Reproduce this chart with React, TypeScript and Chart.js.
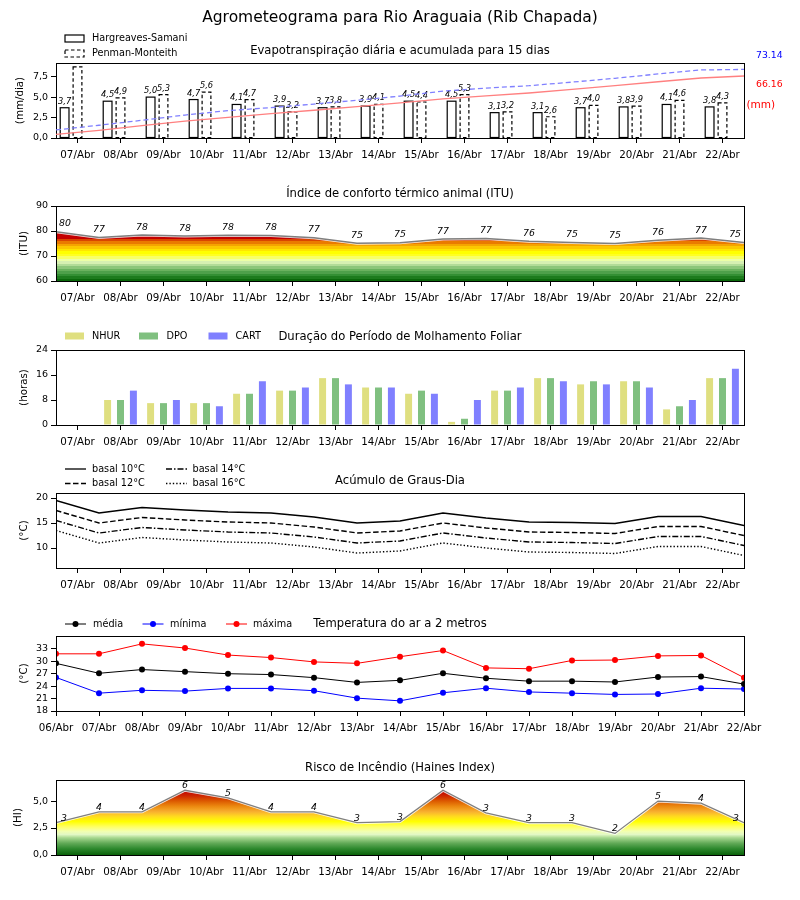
import React, { useEffect, useRef } from 'react';
import { Chart, registerables } from 'chart.js';

Chart.register(...registerables);
const FONT = '"DejaVu Sans", sans-serif';
Chart.defaults.font.family = FONT;
Chart.defaults.color = '#000';

// ---------------- data ----------------
const dias = ['07/Abr', '08/Abr', '09/Abr', '10/Abr', '11/Abr', '12/Abr', '13/Abr', '14/Abr', '15/Abr', '16/Abr', '17/Abr', '18/Abr', '19/Abr', '20/Abr', '21/Abr', '22/Abr'];
const diasTemp = ['06/Abr', '07/Abr', '08/Abr', '09/Abr', '10/Abr', '11/Abr', '12/Abr', '13/Abr', '14/Abr', '15/Abr', '16/Abr', '17/Abr', '18/Abr', '19/Abr', '20/Abr', '21/Abr', '22/Abr'];

const etHS = [3.7, 4.5, 5.0, 4.7, 4.1, 3.9, 3.7, 3.9, 4.5, 4.5, 3.1, 3.1, 3.7, 3.8, 4.1, 3.8];
const etPM = [8.7, 4.9, 5.3, 5.6, 4.7, 3.2, 3.8, 4.1, 4.4, 5.3, 3.2, 2.6, 4.0, 3.9, 4.6, 4.3];
const etAcumHS = [3.9, 8.2, 13.2, 17.9, 22.0, 25.9, 29.6, 33.5, 37.4, 41.8, 45.0, 48.0, 51.8, 55.8, 60.0, 64.0, 66.16];
const etAcumPM = [8.6, 13.6, 18.9, 24.5, 29.2, 32.4, 36.2, 40.3, 44.7, 50.0, 53.2, 55.8, 59.6, 63.7, 68.3, 72.6, 73.14];
const etTotalPM = '73.14';
const etTotalHS = '66.16';
const etTicks = [0, 2.5, 5, 7.5];

const itu = [79.7, 77.4, 78.4, 78.0, 78.3, 78.2, 77.3, 75.1, 75.3, 76.8, 77.0, 75.9, 75.4, 75.0, 76.3, 77.2, 75.4];
const ituRotulos = ['80', '77', '78', '78', '78', '78', '77', '75', '75', '77', '77', '76', '75', '75', '76', '77', '75'];
const ituTicks = [60, 70, 80, 90];

const nhur = [0, 8, 7, 7, 10, 11, 15, 12, 10, 1, 11, 15, 13, 14, 5, 15];
const dpo = [0, 8, 7, 7, 10, 11, 15, 12, 11, 2, 11, 15, 14, 14, 6, 15];
const cart = [0, 11, 8, 6, 14, 12, 13, 12, 10, 8, 12, 14, 13, 12, 8, 18];
const molhTicks = [0, 8, 16, 24];

const gd10 = [19.5, 17.0, 18.1, 17.6, 17.2, 17.0, 16.2, 15.0, 15.4, 17.0, 16.0, 15.2, 15.1, 14.9, 16.3, 16.3, 14.5];
const gd12 = [17.5, 15.0, 16.1, 15.6, 15.2, 15.0, 14.2, 13.0, 13.4, 15.0, 14.0, 13.2, 13.1, 12.9, 14.3, 14.3, 12.5];
const gd14 = [15.5, 13.0, 14.1, 13.6, 13.2, 13.0, 12.2, 11.0, 11.4, 13.0, 12.0, 11.2, 11.1, 10.9, 12.3, 12.3, 10.5];
const gd16 = [13.5, 11.0, 12.1, 11.6, 11.2, 11.0, 10.2, 9.0, 9.4, 11.0, 10.0, 9.2, 9.1, 8.9, 10.3, 10.3, 8.5];
const gdTicks = [10, 15, 20];

const tMed = [29.5, 27.1, 28.0, 27.5, 27.0, 26.8, 26.05, 24.9, 25.4, 27.1, 25.9, 25.2, 25.2, 25.0, 26.2, 26.3, 24.5];
const tMin = [26.1, 22.3, 23.0, 22.8, 23.45, 23.45, 22.9, 21.1, 20.45, 22.4, 23.5, 22.6, 22.3, 22.0, 22.1, 23.5, 23.3];
const tMax = [31.8, 31.8, 34.2, 33.2, 31.5, 30.9, 29.85, 29.5, 31.1, 32.6, 28.4, 28.2, 30.2, 30.3, 31.3, 31.4, 26.05];
const tTicks = [18, 21, 24, 27, 30, 33];

const haines = [3.0, 4.0, 4.0, 6.0, 5.3, 4.0, 4.0, 3.0, 3.1, 6.0, 3.9, 3.0, 3.0, 2.0, 5.0, 4.8, 3.0];
const hainesRotulos = ['3', '4', '4', '6', '5', '4', '4', '3', '3', '6', '3', '3', '3', '2', '5', '4', '3'];
const hainesTicks = [0, 2.5, 5];

// ---------------- styles / layout ----------------
const AX_L = 56;
const AX_R = 744;
const PANEL_TOP = [63, 206, 350, 493, 636, 780];
const AX_H = 75;
const HEAD = 40;
const FOOT = 28;
const LEGEND_FONT = 9.7;

const ITU_BANDS: [number, number, string][] = [
  [60, 61, '#0a680a'], [61, 62, '#1d7b1d'], [62, 63, '#338f33'], [63, 64, '#4ea04a'],
  [64, 65, '#6ab25e'], [65, 66, '#8cc67a'], [66, 67, '#b2dc98'], [67, 68, '#d6f0b2'],
  [68, 69, '#ecffa6'], [69, 70, '#f8ff66'], [70, 71, '#ffff22'], [71, 72, '#ffff00'],
  [72, 73, '#ffe600'], [73, 74, '#fcc800'], [74, 75, '#f5a400'], [75, 76, '#ea7a00'],
  [76, 77, '#da4600'], [77, 90, '#c40000'],
];
const HAINES_STOPS: [number, string][] = [
  [0, '#0a620a'], [0.6, '#2f8a2f'], [1.1, '#62aa58'], [1.6, '#a8d890'], [1.9, '#e2f8c4'],
  [2.2, '#f2ffb0'], [2.6, '#ffff66'], [3.1, '#ffff00'], [3.6, '#ffd820'], [4.0, '#f8b030'],
  [4.5, '#ec8a10'], [5.0, '#dc5a00'], [5.5, '#cc2400'], [6.0, '#c00000'], [6.95, '#c00000'],
];

const fmtComma = (v: number) => v.toFixed(1).replace('.', ',');

type LegendItem = {
  kind: 'rect' | 'line'; x: number; y: number; w: number; text: string; tx: number;
  color?: string; fill?: string; stroke?: string; dash?: number[]; marker?: boolean; lw?: number;
};
type TextItem = { text: string; x: number; y: number; color: string; size: number; align: CanvasTextAlign };
type Decor = { canvasTop: number; title: string; titleY: number; ylabel: string; ylabelX: number; legend: LegendItem[]; texts: TextItem[] };

function makeDecor(d: Decor) {
  return {
    id: 'decor',
    afterDraw(chart: any) {
      const ctx = chart.ctx as CanvasRenderingContext2D;
      const a = chart.chartArea;
      ctx.save();
      ctx.strokeStyle = '#000';
      ctx.lineWidth = 1;
      ctx.setLineDash([]);
      ctx.strokeRect(a.left + 0.5, a.top + 0.5, a.right - a.left, a.bottom - a.top);
      ctx.translate(0, -d.canvasTop);
      ctx.fillStyle = '#000';
      ctx.font = `11.6px ${FONT}`;
      ctx.textAlign = 'center';
      ctx.textBaseline = 'middle';
      ctx.fillText(d.title, (AX_L + AX_R) / 2, d.titleY);
      ctx.save();
      ctx.translate(d.ylabelX, d.canvasTop + (a.top + a.bottom) / 2);
      ctx.rotate(-Math.PI / 2);
      ctx.font = `10.3px ${FONT}`;
      ctx.fillText(d.ylabel, 0, 0);
      ctx.restore();
      for (const it of d.legend) {
        ctx.save();
        if (it.kind === 'rect') {
          const h = 7;
          if (it.fill) {
            ctx.fillStyle = it.fill;
            ctx.fillRect(it.x, it.y - h / 2, it.w, h);
          }
          if (it.stroke) {
            ctx.strokeStyle = it.stroke;
            ctx.lineWidth = 1.2;
            ctx.setLineDash(it.dash || []);
            ctx.strokeRect(it.x, it.y - h / 2, it.w, h);
          }
        } else {
          ctx.strokeStyle = it.color || '#000';
          ctx.lineWidth = it.lw ?? 1.3;
          ctx.setLineDash(it.dash || []);
          ctx.beginPath();
          ctx.moveTo(it.x, it.y);
          ctx.lineTo(it.x + it.w, it.y);
          ctx.stroke();
          if (it.marker) {
            ctx.setLineDash([]);
            ctx.fillStyle = it.color || '#000';
            ctx.beginPath();
            ctx.arc(it.x + it.w / 2, it.y, 3, 0, Math.PI * 2);
            ctx.fill();
          }
        }
        ctx.fillStyle = '#000';
        ctx.font = `${LEGEND_FONT}px ${FONT}`;
        ctx.textAlign = 'left';
        ctx.textBaseline = 'middle';
        ctx.fillText(it.text, it.tx, it.y);
        ctx.restore();
      }
      for (const t of d.texts) {
        ctx.fillStyle = t.color;
        ctx.font = `${t.size}px ${FONT}`;
        ctx.textAlign = t.align;
        ctx.textBaseline = 'middle';
        ctx.fillText(t.text, t.x, t.y);
      }
      ctx.restore();
    },
  };
}

const etBarsPlugin = {
  id: 'etBars',
  afterDatasetDraw(chart: any, args: any) {
    if (args.index !== 0 && args.index !== 1) return;
    const ctx = chart.ctx as CanvasRenderingContext2D;
    ctx.save();
    ctx.strokeStyle = '#000';
    ctx.lineWidth = 1.2;
    ctx.setLineDash(args.index === 1 ? [3.5, 2.5] : []);
    for (const el of args.meta.data) {
      const p = el.getProps(['x', 'y', 'base', 'width'], true);
      if (p.y == null || isNaN(p.y)) continue;
      ctx.strokeRect(p.x - p.width / 2, p.y, p.width, p.base - p.y);
    }
    ctx.restore();
  },
  afterDatasetsDraw(chart: any) {
    const ctx = chart.ctx as CanvasRenderingContext2D;
    const a = chart.chartArea;
    ctx.save();
    ctx.fillStyle = '#000';
    ctx.font = `italic 8.3px ${FONT}`;
    ctx.textAlign = 'center';
    ctx.textBaseline = 'alphabetic';
    [etHS, etPM].forEach((vals, di) => {
      const meta = chart.getDatasetMeta(di);
      meta.data.forEach((el: any, i: number) => {
        const p = el.getProps(['x', 'y'], true);
        const ty = p.y - 4;
        if (ty - 8 < a.top) return;
        ctx.fillText(fmtComma(vals[i]), p.x, ty);
      });
    });
    ctx.restore();
  },
};

function pointLabels(vals: number[], labels: string[], dy: number, edge: number, size: number) {
  return {
    id: 'pointLabels',
    afterDatasetsDraw(chart: any) {
      const ctx = chart.ctx as CanvasRenderingContext2D;
      const xs = chart.scales.x;
      const ys = chart.scales.y;
      ctx.save();
      ctx.fillStyle = '#000';
      ctx.font = `italic ${size}px ${FONT}`;
      ctx.textBaseline = 'alphabetic';
      vals.forEach((v, i) => {
        let x = xs.getPixelForValue(i);
        const y = ys.getPixelForValue(v) - dy;
        if (i === 0) { ctx.textAlign = 'left'; x += edge; }
        else if (i === vals.length - 1) { ctx.textAlign = 'right'; x -= edge; }
        else ctx.textAlign = 'center';
        ctx.fillText(labels[i], x, y);
      });
      ctx.restore();
    },
  };
}

const gridOpts = { display: true, drawOnChartArea: false, drawTicks: true, tickLength: 5, color: '#000', lineWidth: 1, offset: false };

function yScale(min: number, max: number, ticks: number[], fmt?: (v: number) => string) {
  return {
    type: 'linear',
    min,
    max,
    afterBuildTicks: (s: any) => { s.ticks = ticks.map((v) => ({ value: v })); },
    afterFit: (s: any) => { s.width = AX_L; },
    grid: gridOpts,
    border: { display: false },
    ticks: { font: { size: 9.5, family: FONT }, color: '#000', padding: 3, callback: (v: number) => (fmt ? fmt(v) : String(v)) },
  };
}

const xTickFont = { size: 10.3, family: FONT };

function xCategory() {
  return {
    type: 'category',
    offset: true,
    grid: gridOpts,
    border: { display: false },
    ticks: { font: xTickFont, color: '#000', padding: 6, autoSkip: false, maxRotation: 0 },
    afterFit: (s: any) => { s.height = FOOT; },
  };
}

function xLinear(labels: string[], shift: number) {
  return {
    type: 'linear',
    min: 0,
    max: 16,
    offset: false,
    afterBuildTicks: (s: any) => { s.ticks = labels.map((_, i) => ({ value: i + shift })); },
    grid: gridOpts,
    border: { display: false },
    ticks: { font: xTickFont, color: '#000', padding: 6, autoSkip: false, maxRotation: 0, callback: (_v: number, i: number) => labels[i] },
    afterFit: (s: any) => { s.height = FOOT; },
  };
}

function baseOptions(head: number, scales: any) {
  return {
    responsive: false,
    animation: false,
    events: [],
    layout: { padding: { top: head, right: 800 - AX_R, bottom: 0, left: 0 } },
    plugins: { legend: { display: false }, tooltip: { enabled: false }, title: { display: false } },
    scales,
  };
}

const pts = (arr: number[]) => arr.map((v, i) => ({ x: i, y: v }));

function ituFill(c: any) {
  const ch = c.chart;
  if (!ch.chartArea) return 'rgba(0,0,0,0)';
  const ys = ch.scales.y;
  const g = ch.ctx.createLinearGradient(0, ys.getPixelForValue(60), 0, ys.getPixelForValue(90));
  for (const [lo, hi, col] of ITU_BANDS) {
    g.addColorStop((lo - 60) / 30, col);
    g.addColorStop((hi - 60) / 30, col);
  }
  return g;
}

function hainesFill(c: any) {
  const ch = c.chart;
  if (!ch.chartArea) return 'rgba(0,0,0,0)';
  const ys = ch.scales.y;
  const g = ch.ctx.createLinearGradient(0, ys.getPixelForValue(0), 0, ys.getPixelForValue(6.95));
  for (const [v, col] of HAINES_STOPS) g.addColorStop(Math.min(1, v / 6.95), col);
  return g;
}

type PanelDef = { top: number; height: number; makes: (() => any)[] };

const panels: PanelDef[] = [
  {
    top: 0,
    height: PANEL_TOP[0] + AX_H + FOOT,
    makes: [
      () => ({
        type: 'bar',
        data: {
          labels: dias,
          datasets: [
            { label: 'Hargreaves-Samani', data: etHS, backgroundColor: '#fff', borderWidth: 0 },
            { label: 'Penman-Monteith', data: etPM, backgroundColor: '#fff', borderWidth: 0 },
            { label: '', data: dias.map(() => null) },
          ],
        },
        options: {
          ...baseOptions(PANEL_TOP[0], { x: xCategory(), y: yScale(0, 9.17, etTicks, fmtComma) }),
          datasets: { bar: { categoryPercentage: 0.9, barPercentage: 0.68 } },
        },
        plugins: [
          makeDecor({
            canvasTop: 0,
            title: 'Evapotranspiração diária e acumulada para 15 dias',
            titleY: 51,
            ylabel: '(mm/dia)',
            ylabelX: 20,
            legend: [
              { kind: 'rect', x: 65, y: 38.5, w: 19, text: 'Hargreaves-Samani', tx: 92, fill: '#fff', stroke: '#000' },
              { kind: 'rect', x: 65, y: 53.5, w: 19, text: 'Penman-Monteith', tx: 92, fill: '#fff', stroke: '#000', dash: [3.5, 2.5] },
            ],
            texts: [
              { text: 'Agrometeograma para Rio Araguaia (Rib Chapada)', x: 400, y: 18, color: '#000', size: 15.5, align: 'center' },
              { text: etTotalPM, x: 756, y: 55.5, color: '#0000ff', size: 9.3, align: 'left' },
              { text: etTotalHS, x: 756, y: 84.5, color: '#ff0000', size: 9.3, align: 'left' },
              { text: '(mm)', x: 746.5, y: 105.5, color: '#ff0000', size: 10.5, align: 'left' },
            ],
          }),
          etBarsPlugin,
        ],
      }),
      () => ({
        type: 'line',
        data: {
          datasets: [
            { label: 'HS acumulada', data: pts(etAcumHS), borderColor: '#ff8080', borderWidth: 1.3, pointRadius: 0, tension: 0 },
            { label: 'PM acumulada', data: pts(etAcumPM), borderColor: '#8080ff', borderDash: [5, 3], borderWidth: 1.3, pointRadius: 0, tension: 0 },
          ],
        },
        options: {
          responsive: false,
          animation: false,
          events: [],
          layout: { padding: { top: PANEL_TOP[0], right: 800 - AX_R, bottom: FOOT, left: AX_L } },
          plugins: { legend: { display: false }, tooltip: { enabled: false } },
          scales: {
            x: { type: 'linear', display: false, min: 0, max: 16, offset: false },
            y: { type: 'linear', display: false, min: 0, max: 80 },
          },
        },
      }),
    ],
  },
  {
    top: PANEL_TOP[1] - HEAD,
    height: HEAD + AX_H + FOOT,
    makes: [
      () => ({
        type: 'line',
        data: {
          datasets: [
            { label: 'ITU', data: pts(itu), fill: 'start', backgroundColor: ituFill, borderColor: 'rgba(255,255,255,0.85)', borderWidth: 3, pointRadius: 0, tension: 0, order: 2 },
            { label: 'ITU linha', data: pts(itu), fill: false, borderColor: '#7f7f7f', borderWidth: 1.3, pointRadius: 0, tension: 0, order: 1 },
          ],
        },
        options: baseOptions(HEAD, { x: xLinear(dias, 0.5), y: yScale(60, 90, ituTicks) }),
        plugins: [
          makeDecor({
            canvasTop: PANEL_TOP[1] - HEAD,
            title: 'Índice de conforto térmico animal (ITU)',
            titleY: 194,
            ylabel: '(ITU)',
            ylabelX: 24,
            legend: [],
            texts: [],
          }),
          pointLabels(itu, ituRotulos, 5.5, 3, 9.3),
        ],
      }),
    ],
  },
  {
    top: PANEL_TOP[2] - HEAD,
    height: HEAD + AX_H + FOOT,
    makes: [
      () => ({
        type: 'bar',
        data: {
          labels: dias,
          datasets: [
            { label: 'NHUR', data: nhur, backgroundColor: '#dfdf80', borderWidth: 0 },
            { label: 'DPO', data: dpo, backgroundColor: '#80c080', borderWidth: 0 },
            { label: 'CART', data: cart, backgroundColor: '#8080ff', borderWidth: 0 },
          ],
        },
        options: {
          ...baseOptions(HEAD, { x: xCategory(), y: yScale(0, 24, molhTicks) }),
          datasets: { bar: { categoryPercentage: 0.9, barPercentage: 0.54 } },
        },
        plugins: [
          makeDecor({
            canvasTop: PANEL_TOP[2] - HEAD,
            title: 'Duração do Período de Molhamento Foliar',
            titleY: 337,
            ylabel: '(horas)',
            ylabelX: 24,
            legend: [
              { kind: 'rect', x: 65, y: 336, w: 19, text: 'NHUR', tx: 92, fill: '#dfdf80' },
              { kind: 'rect', x: 139, y: 336, w: 19, text: 'DPO', tx: 166.5, fill: '#80c080' },
              { kind: 'rect', x: 208.5, y: 336, w: 19, text: 'CART', tx: 235.5, fill: '#8080ff' },
            ],
            texts: [],
          }),
        ],
      }),
    ],
  },
  {
    top: PANEL_TOP[3] - HEAD,
    height: HEAD + AX_H + FOOT,
    makes: [
      () => ({
        type: 'line',
        data: {
          datasets: [
            { label: 'basal 10°C', data: pts(gd10), borderColor: '#000', borderWidth: 1.4, pointRadius: 0, tension: 0 },
            { label: 'basal 12°C', data: pts(gd12), borderColor: '#000', borderWidth: 1.4, borderDash: [5.5, 2.5], pointRadius: 0, tension: 0 },
            { label: 'basal 14°C', data: pts(gd14), borderColor: '#000', borderWidth: 1.4, borderDash: [6, 2, 1.5, 2], pointRadius: 0, tension: 0 },
            { label: 'basal 16°C', data: pts(gd16), borderColor: '#000', borderWidth: 1.4, borderDash: [1.4, 2], pointRadius: 0, tension: 0 },
          ],
        },
        options: baseOptions(HEAD, { x: xLinear(dias, 0.5), y: yScale(6, 21, gdTicks) }),
        plugins: [
          makeDecor({
            canvasTop: PANEL_TOP[3] - HEAD,
            title: 'Acúmulo de Graus-Dia',
            titleY: 481,
            ylabel: '(°C)',
            ylabelX: 24,
            legend: [
              { kind: 'line', x: 65, y: 469, w: 21, text: 'basal 10°C', tx: 92, color: '#000' },
              { kind: 'line', x: 65, y: 483.5, w: 21, text: 'basal 12°C', tx: 92, color: '#000', dash: [5.5, 2.5] },
              { kind: 'line', x: 166, y: 469, w: 21, text: 'basal 14°C', tx: 192.5, color: '#000', dash: [6, 2, 1.5, 2] },
              { kind: 'line', x: 166, y: 483.5, w: 21, text: 'basal 16°C', tx: 192.5, color: '#000', dash: [1.4, 2] },
            ],
            texts: [],
          }),
        ],
      }),
    ],
  },
  {
    top: PANEL_TOP[4] - HEAD,
    height: HEAD + AX_H + FOOT,
    makes: [
      () => ({
        type: 'line',
        data: {
          datasets: [
            { label: 'média', data: pts(tMed), borderColor: '#000', backgroundColor: '#000', borderWidth: 1, pointRadius: 3, pointBorderWidth: 0, pointBackgroundColor: '#000', tension: 0 },
            { label: 'mínima', data: pts(tMin), borderColor: '#0000ff', backgroundColor: '#0000ff', borderWidth: 1, pointRadius: 3, pointBorderWidth: 0, pointBackgroundColor: '#0000ff', tension: 0 },
            { label: 'máxima', data: pts(tMax), borderColor: '#ff0000', backgroundColor: '#ff0000', borderWidth: 1, pointRadius: 3, pointBorderWidth: 0, pointBackgroundColor: '#ff0000', tension: 0 },
          ],
        },
        options: baseOptions(HEAD, { x: xLinear(diasTemp, 0), y: yScale(18, 36.1, tTicks) }),
        plugins: [
          makeDecor({
            canvasTop: PANEL_TOP[4] - HEAD,
            title: 'Temperatura do ar a 2 metros',
            titleY: 624,
            ylabel: '(°C)',
            ylabelX: 24,
            legend: [
              { kind: 'line', x: 65, y: 624, w: 21, text: 'média', tx: 93, color: '#000', marker: true, lw: 1 },
              { kind: 'line', x: 142.5, y: 624, w: 21, text: 'mínima', tx: 170, color: '#0000ff', marker: true, lw: 1 },
              { kind: 'line', x: 226, y: 624, w: 21, text: 'máxima', tx: 253, color: '#ff0000', marker: true, lw: 1 },
            ],
            texts: [],
          }),
        ],
      }),
    ],
  },
  {
    top: PANEL_TOP[5] - HEAD,
    height: HEAD + AX_H + FOOT,
    makes: [
      () => ({
        type: 'line',
        data: {
          datasets: [
            { label: 'HI', data: pts(haines), fill: 'start', backgroundColor: hainesFill, borderColor: 'rgba(255,255,255,0.85)', borderWidth: 3, pointRadius: 0, tension: 0, order: 2 },
            { label: 'HI linha', data: pts(haines), fill: false, borderColor: '#7f7f7f', borderWidth: 1.3, pointRadius: 0, tension: 0, order: 1 },
          ],
        },
        options: baseOptions(HEAD, { x: xLinear(dias, 0.5), y: yScale(0, 6.95, hainesTicks, fmtComma) }),
        plugins: [
          makeDecor({
            canvasTop: PANEL_TOP[5] - HEAD,
            title: 'Risco de Incêndio (Haines Index)',
            titleY: 768,
            ylabel: '(HI)',
            ylabelX: 18,
            legend: [],
            texts: [],
          }),
          pointLabels(haines, hainesRotulos, 2, 5, 9.3),
        ],
      }),
    ],
  },
];

function ChartCanvas({ make, height }: { make: () => any; height: number }) {
  const ref = useRef<HTMLCanvasElement>(null);
  useEffect(() => {
    const chart = new Chart(ref.current as HTMLCanvasElement, make());
    return () => chart.destroy();
  }, [make]);
  return (
    <canvas
      ref={ref}
      width={800}
      height={height}
      style={{ position: 'absolute', left: 0, top: 0, display: 'block', width: 800, height }}
    />
  );
}

function Panel({ def }: { def: PanelDef }) {
  return (
    <div style={{ position: 'absolute', left: 0, top: def.top, width: 800, height: def.height }}>
      {def.makes.map((m, i) => (
        <ChartCanvas key={i} make={m} height={def.height} />
      ))}
    </div>
  );
}

export default function App() {
  return (
    <div style={{ position: 'absolute', left: 0, top: 0, width: 800, height: 900, background: '#fff', overflow: 'hidden' }}>
      {panels.map((p, i) => (
        <Panel key={i} def={p} />
      ))}
    </div>
  );
}
